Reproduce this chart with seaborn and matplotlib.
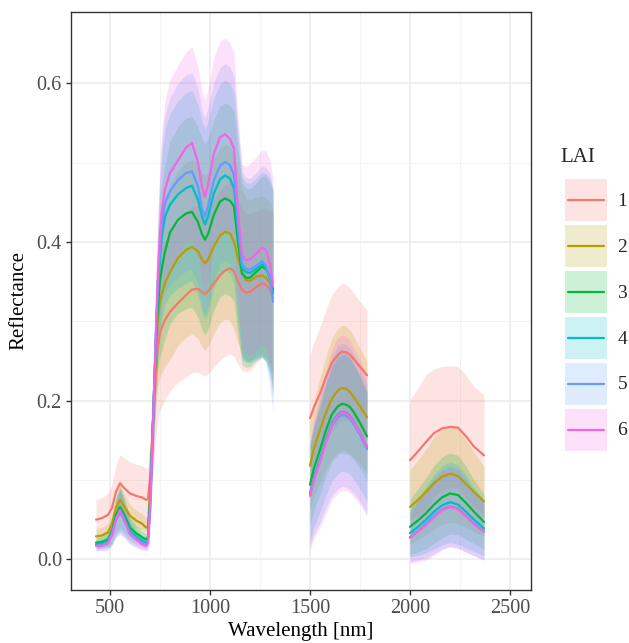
import numpy as np
import pandas as pd
import matplotlib
matplotlib.use("Agg")
import matplotlib.pyplot as plt
import seaborn as sns
from matplotlib.patches import Rectangle
from matplotlib.lines import Line2D
from matplotlib.legend_handler import HandlerBase

# LAI classes and their ggplot-style hue colours
lai_levels = ["1", "2", "3", "4", "5", "6"]
lai_colors = ["#F8766D", "#B79F00", "#00BA38", "#00BFC4", "#619CFF", "#F564E3"]

# ---- VNIR band (nm) ----
wl_vnir = [430, 460, 490, 510, 530, 550, 570, 600, 630, 660, 680, 690, 700, 710,
           720, 730, 740, 750, 760, 775, 800, 840, 880, 910, 940, 960, 975, 990,
           1020, 1050, 1075, 1100, 1120, 1140, 1160, 1180, 1200, 1230, 1260, 1280,
           1300, 1315]
vnir_mean = [
    [0.050, 0.052, 0.056, 0.065, 0.085, 0.096, 0.090, 0.083, 0.080, 0.078, 0.075, 0.076, 0.100, 0.150,
     0.195, 0.235, 0.268, 0.285, 0.293, 0.302, 0.312, 0.323, 0.333, 0.340, 0.341, 0.337, 0.334, 0.338,
     0.348, 0.358, 0.364, 0.367, 0.363, 0.350, 0.340, 0.336, 0.337, 0.343, 0.348, 0.346, 0.340, 0.330],
    [0.029, 0.030, 0.034, 0.045, 0.065, 0.075, 0.067, 0.055, 0.049, 0.045, 0.040, 0.042, 0.085, 0.140,
     0.205, 0.265, 0.305, 0.325, 0.335, 0.348, 0.362, 0.380, 0.390, 0.394, 0.388, 0.378, 0.373, 0.378,
     0.395, 0.408, 0.413, 0.411, 0.400, 0.380, 0.362, 0.352, 0.351, 0.356, 0.358, 0.355, 0.348, 0.338],
    [0.021, 0.022, 0.025, 0.036, 0.056, 0.066, 0.057, 0.040, 0.033, 0.028, 0.025, 0.028, 0.075, 0.140,
     0.210, 0.275, 0.320, 0.352, 0.368, 0.388, 0.412, 0.428, 0.436, 0.438, 0.425, 0.410, 0.403, 0.410,
     0.435, 0.451, 0.455, 0.452, 0.445, 0.400, 0.360, 0.355, 0.355, 0.362, 0.369, 0.366, 0.355, 0.340],
    [0.019, 0.020, 0.023, 0.034, 0.053, 0.062, 0.053, 0.036, 0.029, 0.024, 0.021, 0.024, 0.068, 0.135,
     0.210, 0.285, 0.340, 0.380, 0.408, 0.432, 0.447, 0.460, 0.468, 0.471, 0.453, 0.432, 0.422, 0.432,
     0.462, 0.479, 0.484, 0.480, 0.468, 0.415, 0.367, 0.362, 0.361, 0.366, 0.372, 0.368, 0.355, 0.335],
    [0.017, 0.018, 0.021, 0.032, 0.050, 0.059, 0.050, 0.033, 0.026, 0.021, 0.019, 0.022, 0.065, 0.135,
     0.210, 0.290, 0.350, 0.392, 0.425, 0.449, 0.464, 0.478, 0.487, 0.489, 0.470, 0.442, 0.432, 0.445,
     0.478, 0.496, 0.501, 0.497, 0.484, 0.425, 0.372, 0.366, 0.365, 0.370, 0.376, 0.370, 0.352, 0.325],
    [0.017, 0.017, 0.020, 0.031, 0.050, 0.062, 0.050, 0.032, 0.025, 0.019, 0.017, 0.020, 0.062, 0.130,
     0.210, 0.290, 0.360, 0.410, 0.440, 0.466, 0.487, 0.503, 0.519, 0.525, 0.500, 0.470, 0.457, 0.472,
     0.512, 0.532, 0.536, 0.530, 0.518, 0.440, 0.383, 0.377, 0.378, 0.385, 0.393, 0.390, 0.372, 0.345],
]
vnir_sd = [
    [0.025, 0.026, 0.027, 0.030, 0.034, 0.036, 0.038, 0.040, 0.040, 0.040, 0.040, 0.040, 0.050, 0.060,
     0.070, 0.080, 0.090, 0.097, 0.100, 0.100, 0.100, 0.100, 0.103, 0.105, 0.105, 0.104, 0.103, 0.104,
     0.106, 0.107, 0.108, 0.108, 0.107, 0.105, 0.102, 0.100, 0.099, 0.096, 0.094, 0.095, 0.100, 0.105],
    [0.010, 0.010, 0.011, 0.014, 0.017, 0.019, 0.017, 0.014, 0.013, 0.013, 0.013, 0.014, 0.025, 0.040,
     0.055, 0.070, 0.085, 0.095, 0.100, 0.105, 0.110, 0.110, 0.110, 0.110, 0.110, 0.110, 0.110, 0.110,
     0.110, 0.110, 0.110, 0.110, 0.110, 0.108, 0.105, 0.103, 0.102, 0.100, 0.100, 0.100, 0.102, 0.105],
    [0.007, 0.007, 0.009, 0.015, 0.022, 0.026, 0.022, 0.013, 0.010, 0.008, 0.007, 0.008, 0.020, 0.035,
     0.050, 0.065, 0.080, 0.095, 0.105, 0.110, 0.115, 0.118, 0.120, 0.120, 0.120, 0.120, 0.120, 0.120,
     0.120, 0.120, 0.120, 0.120, 0.120, 0.118, 0.115, 0.113, 0.112, 0.112, 0.114, 0.116, 0.120, 0.125],
    [0.006, 0.006, 0.008, 0.014, 0.022, 0.027, 0.022, 0.013, 0.010, 0.008, 0.007, 0.008, 0.020, 0.035,
     0.050, 0.065, 0.080, 0.095, 0.105, 0.110, 0.115, 0.118, 0.120, 0.120, 0.120, 0.120, 0.120, 0.120,
     0.120, 0.120, 0.120, 0.120, 0.120, 0.118, 0.115, 0.113, 0.113, 0.114, 0.116, 0.118, 0.125, 0.130],
    [0.006, 0.006, 0.008, 0.014, 0.022, 0.028, 0.022, 0.013, 0.010, 0.008, 0.007, 0.008, 0.020, 0.035,
     0.050, 0.065, 0.080, 0.095, 0.105, 0.112, 0.118, 0.122, 0.124, 0.124, 0.124, 0.124, 0.124, 0.124,
     0.124, 0.124, 0.124, 0.124, 0.124, 0.120, 0.116, 0.115, 0.115, 0.117, 0.120, 0.124, 0.135, 0.140],
    [0.006, 0.006, 0.008, 0.014, 0.022, 0.028, 0.022, 0.013, 0.010, 0.008, 0.007, 0.008, 0.020, 0.035,
     0.050, 0.065, 0.080, 0.095, 0.105, 0.112, 0.118, 0.120, 0.121, 0.121, 0.121, 0.121, 0.121, 0.121,
     0.121, 0.121, 0.121, 0.121, 0.120, 0.115, 0.115, 0.118, 0.121, 0.122, 0.123, 0.125, 0.130, 0.135],
]

# ---- SWIR-1 band (nm) ----
wl_swir1 = [1500, 1520, 1550, 1580, 1610, 1640, 1660, 1680, 1700, 1720, 1750, 1785]
swir1_mean = [
    [0.178, 0.192, 0.209, 0.230, 0.248, 0.258, 0.262, 0.261, 0.258, 0.252, 0.243, 0.232],
    [0.118, 0.140, 0.163, 0.185, 0.203, 0.213, 0.216, 0.215, 0.211, 0.204, 0.193, 0.179],
    [0.094, 0.115, 0.138, 0.163, 0.183, 0.193, 0.196, 0.195, 0.192, 0.185, 0.172, 0.155],
    [0.083, 0.104, 0.126, 0.151, 0.172, 0.183, 0.186, 0.185, 0.181, 0.173, 0.160, 0.142],
    [0.081, 0.102, 0.124, 0.149, 0.169, 0.179, 0.182, 0.181, 0.177, 0.170, 0.157, 0.139],
    [0.080, 0.101, 0.123, 0.148, 0.170, 0.182, 0.185, 0.184, 0.180, 0.172, 0.160, 0.142],
]
swir1_sd = [
    [0.080, 0.082, 0.084, 0.085, 0.086, 0.086, 0.086, 0.085, 0.084, 0.083, 0.082, 0.082],
    [0.055, 0.060, 0.066, 0.071, 0.076, 0.078, 0.079, 0.079, 0.078, 0.076, 0.073, 0.070],
    [0.050, 0.053, 0.056, 0.058, 0.060, 0.061, 0.062, 0.062, 0.061, 0.060, 0.058, 0.056],
    [0.060, 0.063, 0.066, 0.070, 0.073, 0.075, 0.075, 0.075, 0.074, 0.073, 0.071, 0.069],
    [0.065, 0.070, 0.078, 0.084, 0.088, 0.090, 0.090, 0.090, 0.089, 0.087, 0.084, 0.081],
    [0.068, 0.075, 0.083, 0.090, 0.095, 0.098, 0.098, 0.097, 0.096, 0.094, 0.091, 0.088],
]

# ---- SWIR-2 band (nm) ----
wl_swir2 = [2000, 2040, 2080, 2120, 2160, 2200, 2240, 2280, 2320, 2370]
swir2_mean = [
    [0.125, 0.136, 0.148, 0.159, 0.165, 0.167, 0.166, 0.155, 0.142, 0.131],
    [0.066, 0.075, 0.085, 0.096, 0.104, 0.108, 0.105, 0.095, 0.085, 0.073],
    [0.041, 0.049, 0.058, 0.069, 0.078, 0.083, 0.081, 0.071, 0.060, 0.047],
    [0.033, 0.041, 0.050, 0.060, 0.068, 0.072, 0.069, 0.060, 0.050, 0.039],
    [0.028, 0.036, 0.045, 0.055, 0.063, 0.067, 0.064, 0.055, 0.045, 0.035],
    [0.027, 0.035, 0.043, 0.053, 0.062, 0.066, 0.063, 0.054, 0.044, 0.035],
]
swir2_sd = [
    [0.076, 0.080, 0.085, 0.081, 0.078, 0.077, 0.077, 0.077, 0.076, 0.076],
    [0.047, 0.050, 0.054, 0.058, 0.060, 0.061, 0.060, 0.055, 0.050, 0.044],
    [0.035, 0.040, 0.045, 0.049, 0.051, 0.051, 0.050, 0.046, 0.040, 0.035],
    [0.030, 0.036, 0.042, 0.047, 0.050, 0.051, 0.050, 0.046, 0.040, 0.035],
    [0.031, 0.037, 0.043, 0.048, 0.050, 0.051, 0.050, 0.046, 0.040, 0.036],
    [0.032, 0.038, 0.044, 0.048, 0.050, 0.050, 0.049, 0.045, 0.040, 0.036],
]

# long-form table: one row per band / LAI class / wavelength
bands = [("VNIR", wl_vnir, vnir_mean, vnir_sd),
         ("SWIR1", wl_swir1, swir1_mean, swir1_sd),
         ("SWIR2", wl_swir2, swir2_mean, swir2_sd)]
rows = []
for band, wl, mean, sd in bands:
    for i, lai in enumerate(lai_levels):
        rows.append(pd.DataFrame({"Wavelength": wl, "Reflectance": mean[i],
                                  "sd": sd[i], "LAI": lai, "band": band}))
df = pd.concat(rows, ignore_index=True)
df["lo"] = df["Reflectance"] - df["sd"]
df["hi"] = df["Reflectance"] + df["sd"]

sns.set_theme(style="white")
plt.rcParams["font.family"] = ["Liberation Serif", "DejaVu Serif"]

fig = plt.figure(figsize=(6.29, 6.43), dpi=100)
ax = fig.add_axes([71 / 629, 53 / 643, 460 / 629, 578 / 643])

# shaded +/- sd ribbons, drawn under all lines
for lai, col in zip(lai_levels, lai_colors):
    for band, *_ in bands:
        sub = df[(df["LAI"] == lai) & (df["band"] == band)]
        ax.fill_between(sub["Wavelength"], sub["lo"], sub["hi"],
                        color=col, alpha=0.2, linewidth=0, zorder=2)

sns.lineplot(data=df, x="Wavelength", y="Reflectance", hue="LAI",
             hue_order=lai_levels, palette=lai_colors, units="band",
             estimator=None, sort=False, linewidth=1.6, legend=False,
             ax=ax, zorder=3)

ax.set_xlim(305, 2605)
ax.set_ylim(-0.0387, 0.690)
ax.set_xticks([500, 1000, 1500, 2000, 2500])
ax.set_xticks([750, 1250, 1750, 2250], minor=True)
ax.set_yticks([0.0, 0.2, 0.4, 0.6])
ax.set_yticklabels(["0.0", "0.2", "0.4", "0.6"])
ax.set_yticks([0.1, 0.3, 0.5], minor=True)

ax.grid(which="major", color="#EBEBEB", linewidth=1.1, zorder=0)
ax.grid(which="minor", color="#F3F3F3", linewidth=0.6, zorder=0)
ax.set_axisbelow(True)
for s in ax.spines.values():
    s.set_color("#333333")
    s.set_linewidth(1.0)
ax.tick_params(which="major", length=3.5, width=1.0, color="#333333",
               labelcolor="#4D4D4D", labelsize=14.6, pad=3, bottom=True, left=True)
ax.tick_params(which="minor", length=0)

ax.set_xlabel("Wavelength [nm]", fontsize=15, color="black", labelpad=3)
ax.set_ylabel("Reflectance", fontsize=15, color="black", labelpad=6)


class RibbonKey(HandlerBase):
    """Legend key: a light filled square with the series line across it."""

    def create_artists(self, legend, orig_handle, xdescent, ydescent,
                       width, height, fontsize, trans):
        col = orig_handle.get_color()
        x0, y0 = -xdescent, -ydescent
        box = Rectangle((x0, y0), width, height, facecolor=col, alpha=0.2,
                        edgecolor="none", transform=trans)
        ym = y0 + height / 2
        line = Line2D([x0 + 0.07 * width, x0 + 0.93 * width], [ym, ym],
                      color=col, linewidth=1.6, transform=trans)
        return [box, line]


handles = [Line2D([], [], color=c) for c in lai_colors]
leg = fig.legend(handles, lai_levels, loc="upper left",
                 bbox_to_anchor=(565 / 629, 1 - 179 / 643), frameon=False,
                 fontsize=14, handlelength=2.15, handleheight=2.95,
                 labelspacing=0.2, handletextpad=0.55, borderaxespad=0,
                 borderpad=0, handler_map={Line2D: RibbonKey()})
fig.text(560 / 629, 1 - 158 / 643, "LAI", fontsize=15, va="center", ha="left")

fig.savefig("out.png", dpi=100)
